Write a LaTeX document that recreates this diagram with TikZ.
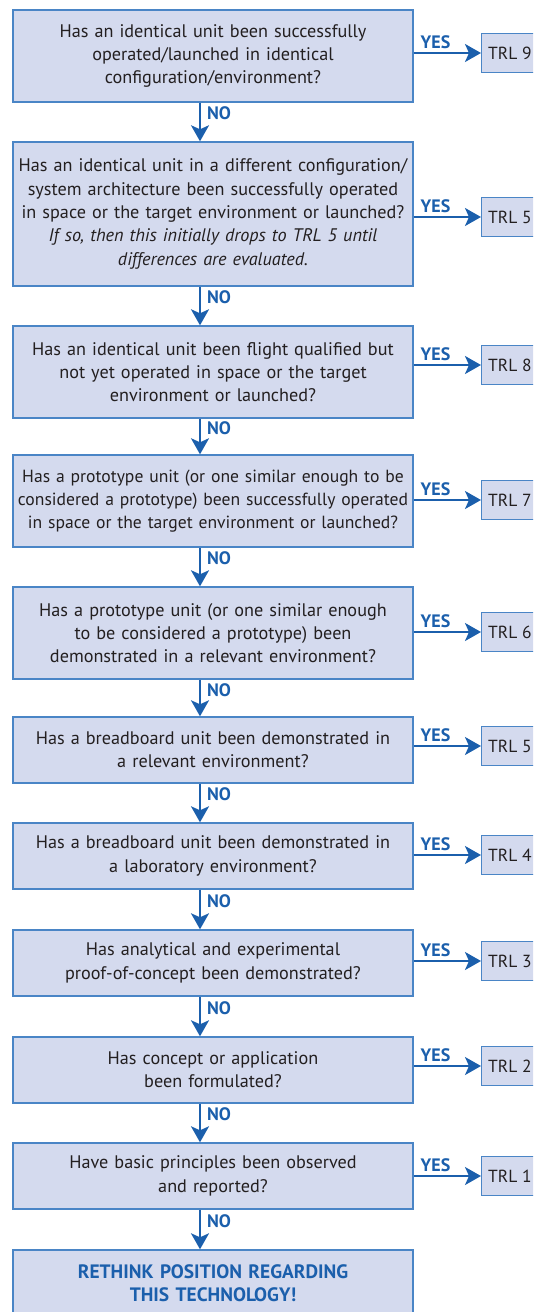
\documentclass[tikz,border=0pt]{standalone}
\usepackage{fontspec}
\setmainfont{PT Sans}
\usetikzlibrary{arrows.meta,positioning}

\definecolor{boxfill}{HTML}{D4DAEE}
\definecolor{boxline}{HTML}{4A85C6}
\definecolor{flowblue}{HTML}{1B5FAC}
\definecolor{qtext}{HTML}{231F20}

\tikzset{
  qbox/.style={draw=boxline, fill=boxfill, line width=1.4pt, minimum width=400pt,
    text width=398pt, align=center, text=qtext, inner sep=0pt,
    font=\fontsize{18.2}{23.3}\selectfont},
  trlbox/.style={draw=boxline, fill=boxfill, line width=1.4pt, minimum height=39pt,
    anchor=west, inner xsep=6.5pt, text=qtext, font=\fontsize{17.5}{20}\selectfont},
  flow/.style={draw=flowblue, line width=2pt, -{Stealth[length=16pt,width=18pt,inset=4pt]}},
  lbl/.style={text=flowblue, inner sep=1pt, font=\fontsize{18}{19}\selectfont\bfseries},
}

\begin{document}
\begin{tikzpicture}[x=1pt,y=-1pt]
      \useasboundingbox (0,0) rectangle (533,1312);
      \clip (0,0) rectangle (533,1312);

      \coordinate (spine) at (200,0);

      % questions
      \node[qbox, minimum height=92pt] (q1) at (213,56) {Has an identical unit been successfully\\ operated/launched in identical\\ configuration/environment?};
      \node[qbox, minimum height=144pt] (q2) at (213,214) {Has an identical unit in a different configuration/\\ system architecture been successfully operated\\ in space or the target environment or launched?\\ \itshape If so, then this initially drops to TRL 5 until\\ \itshape differences are evaluated.};
      \node[qbox, minimum height=92pt] (q3) at (213,372) {Has an identical unit been flight qualified but\\ not yet operated in space or the target\\ environment or launched?};
      \node[qbox, minimum height=92pt, font=\fontsize{17.6}{23.3}\selectfont] (q4) at (213,501) {Has a prototype unit (or one similar enough to be\\ considered a prototype) been successfully operated\\ in space or the target environment or launched?};
      \node[qbox, minimum height=92pt] (q5) at (213,633) {Has a prototype unit (or one similar enough\\ to be considered a prototype) been\\ demonstrated in a relevant environment?};
      \node[qbox, minimum height=66pt] (q6) at (213,750) {Has a breadboard unit been demonstrated in\\ a relevant environment?};
      \node[qbox, minimum height=66pt] (q7) at (213,856) {Has a breadboard unit been demonstrated in\\ a laboratory environment?};
      \node[qbox, minimum height=66pt] (q8) at (213,963) {Has analytical and experimental\\ proof-of-concept been demonstrated?};
      \node[qbox, minimum height=66pt] (q9) at (213,1070) {Has concept or application\\ been formulated?};
      \node[qbox, minimum height=66pt] (q10) at (213,1176) {Have basic principles been observed\\ and reported?};
      \node[qbox, minimum height=66pt, text=flowblue, font=\fontsize{19.4}{23.3}\selectfont\bfseries] (rethink) at (213,1283) {RETHINK POSITION REGARDING\\ THIS TECHNOLOGY!};

      % readiness levels
      \node[trlbox] (trl9) at (481,53) {TRL 9};
      \node[trlbox] (trl5a) at (481,217) {TRL 5};
      \node[trlbox] (trl8) at (481,365) {TRL 8};
      \node[trlbox] (trl7) at (481,500) {TRL 7};
      \node[trlbox] (trl6) at (481,632) {TRL 6};
      \node[trlbox] (trl5b) at (481,746) {TRL 5};
      \node[trlbox] (trl4) at (481,855) {TRL 4};
      \node[trlbox] (trl3) at (481,961) {TRL 3};
      \node[trlbox] (trl2) at (481,1066) {TRL 2};
      \node[trlbox] (trl1) at (481,1176) {TRL 1};

      % yes branches
      \draw[flow] (q1.east |- trl9.west) -- node[lbl, pos=0, anchor=south west, xshift=5pt, yshift=2pt] {YES} (trl9.west);
      \draw[flow] (q2.east |- trl5a.west) -- node[lbl, pos=0, anchor=south west, xshift=5pt, yshift=2pt] {YES} (trl5a.west);
      \draw[flow] (q3.east |- trl8.west) -- node[lbl, pos=0, anchor=south west, xshift=5pt, yshift=2pt] {YES} (trl8.west);
      \draw[flow] (q4.east |- trl7.west) -- node[lbl, pos=0, anchor=south west, xshift=5pt, yshift=2pt] {YES} (trl7.west);
      \draw[flow] (q5.east |- trl6.west) -- node[lbl, pos=0, anchor=south west, xshift=5pt, yshift=2pt] {YES} (trl6.west);
      \draw[flow] (q6.east |- trl5b.west) -- node[lbl, pos=0, anchor=south west, xshift=5pt, yshift=2pt] {YES} (trl5b.west);
      \draw[flow] (q7.east |- trl4.west) -- node[lbl, pos=0, anchor=south west, xshift=5pt, yshift=2pt] {YES} (trl4.west);
      \draw[flow] (q8.east |- trl3.west) -- node[lbl, pos=0, anchor=south west, xshift=5pt, yshift=2pt] {YES} (trl3.west);
      \draw[flow] (q9.east |- trl2.west) -- node[lbl, pos=0, anchor=south west, xshift=5pt, yshift=2pt] {YES} (trl2.west);
      \draw[flow] (q10.east |- trl1.west) -- node[lbl, pos=0, anchor=south west, xshift=5pt, yshift=2pt] {YES} (trl1.west);

      % no branches
      \draw[flow] (q1.south -| spine) -- node[lbl, pos=0.28, anchor=west, xshift=5pt] {NO} (q2.north -| spine);
      \draw[flow] (q2.south -| spine) -- node[lbl, pos=0.28, anchor=west, xshift=5pt] {NO} (q3.north -| spine);
      \draw[flow] (q3.south -| spine) -- node[lbl, pos=0.28, anchor=west, xshift=5pt] {NO} (q4.north -| spine);
      \draw[flow] (q4.south -| spine) -- node[lbl, pos=0.28, anchor=west, xshift=5pt] {NO} (q5.north -| spine);
      \draw[flow] (q5.south -| spine) -- node[lbl, pos=0.28, anchor=west, xshift=5pt] {NO} (q6.north -| spine);
      \draw[flow] (q6.south -| spine) -- node[lbl, pos=0.28, anchor=west, xshift=5pt] {NO} (q7.north -| spine);
      \draw[flow] (q7.south -| spine) -- node[lbl, pos=0.28, anchor=west, xshift=5pt] {NO} (q8.north -| spine);
      \draw[flow] (q8.south -| spine) -- node[lbl, pos=0.28, anchor=west, xshift=5pt] {NO} (q9.north -| spine);
      \draw[flow] (q9.south -| spine) -- node[lbl, pos=0.28, anchor=west, xshift=5pt] {NO} (q10.north -| spine);
      \draw[flow] (q10.south -| spine) -- node[lbl, pos=0.28, anchor=west, xshift=5pt] {NO} (rethink.north -| spine);
\end{tikzpicture}
\end{document}
